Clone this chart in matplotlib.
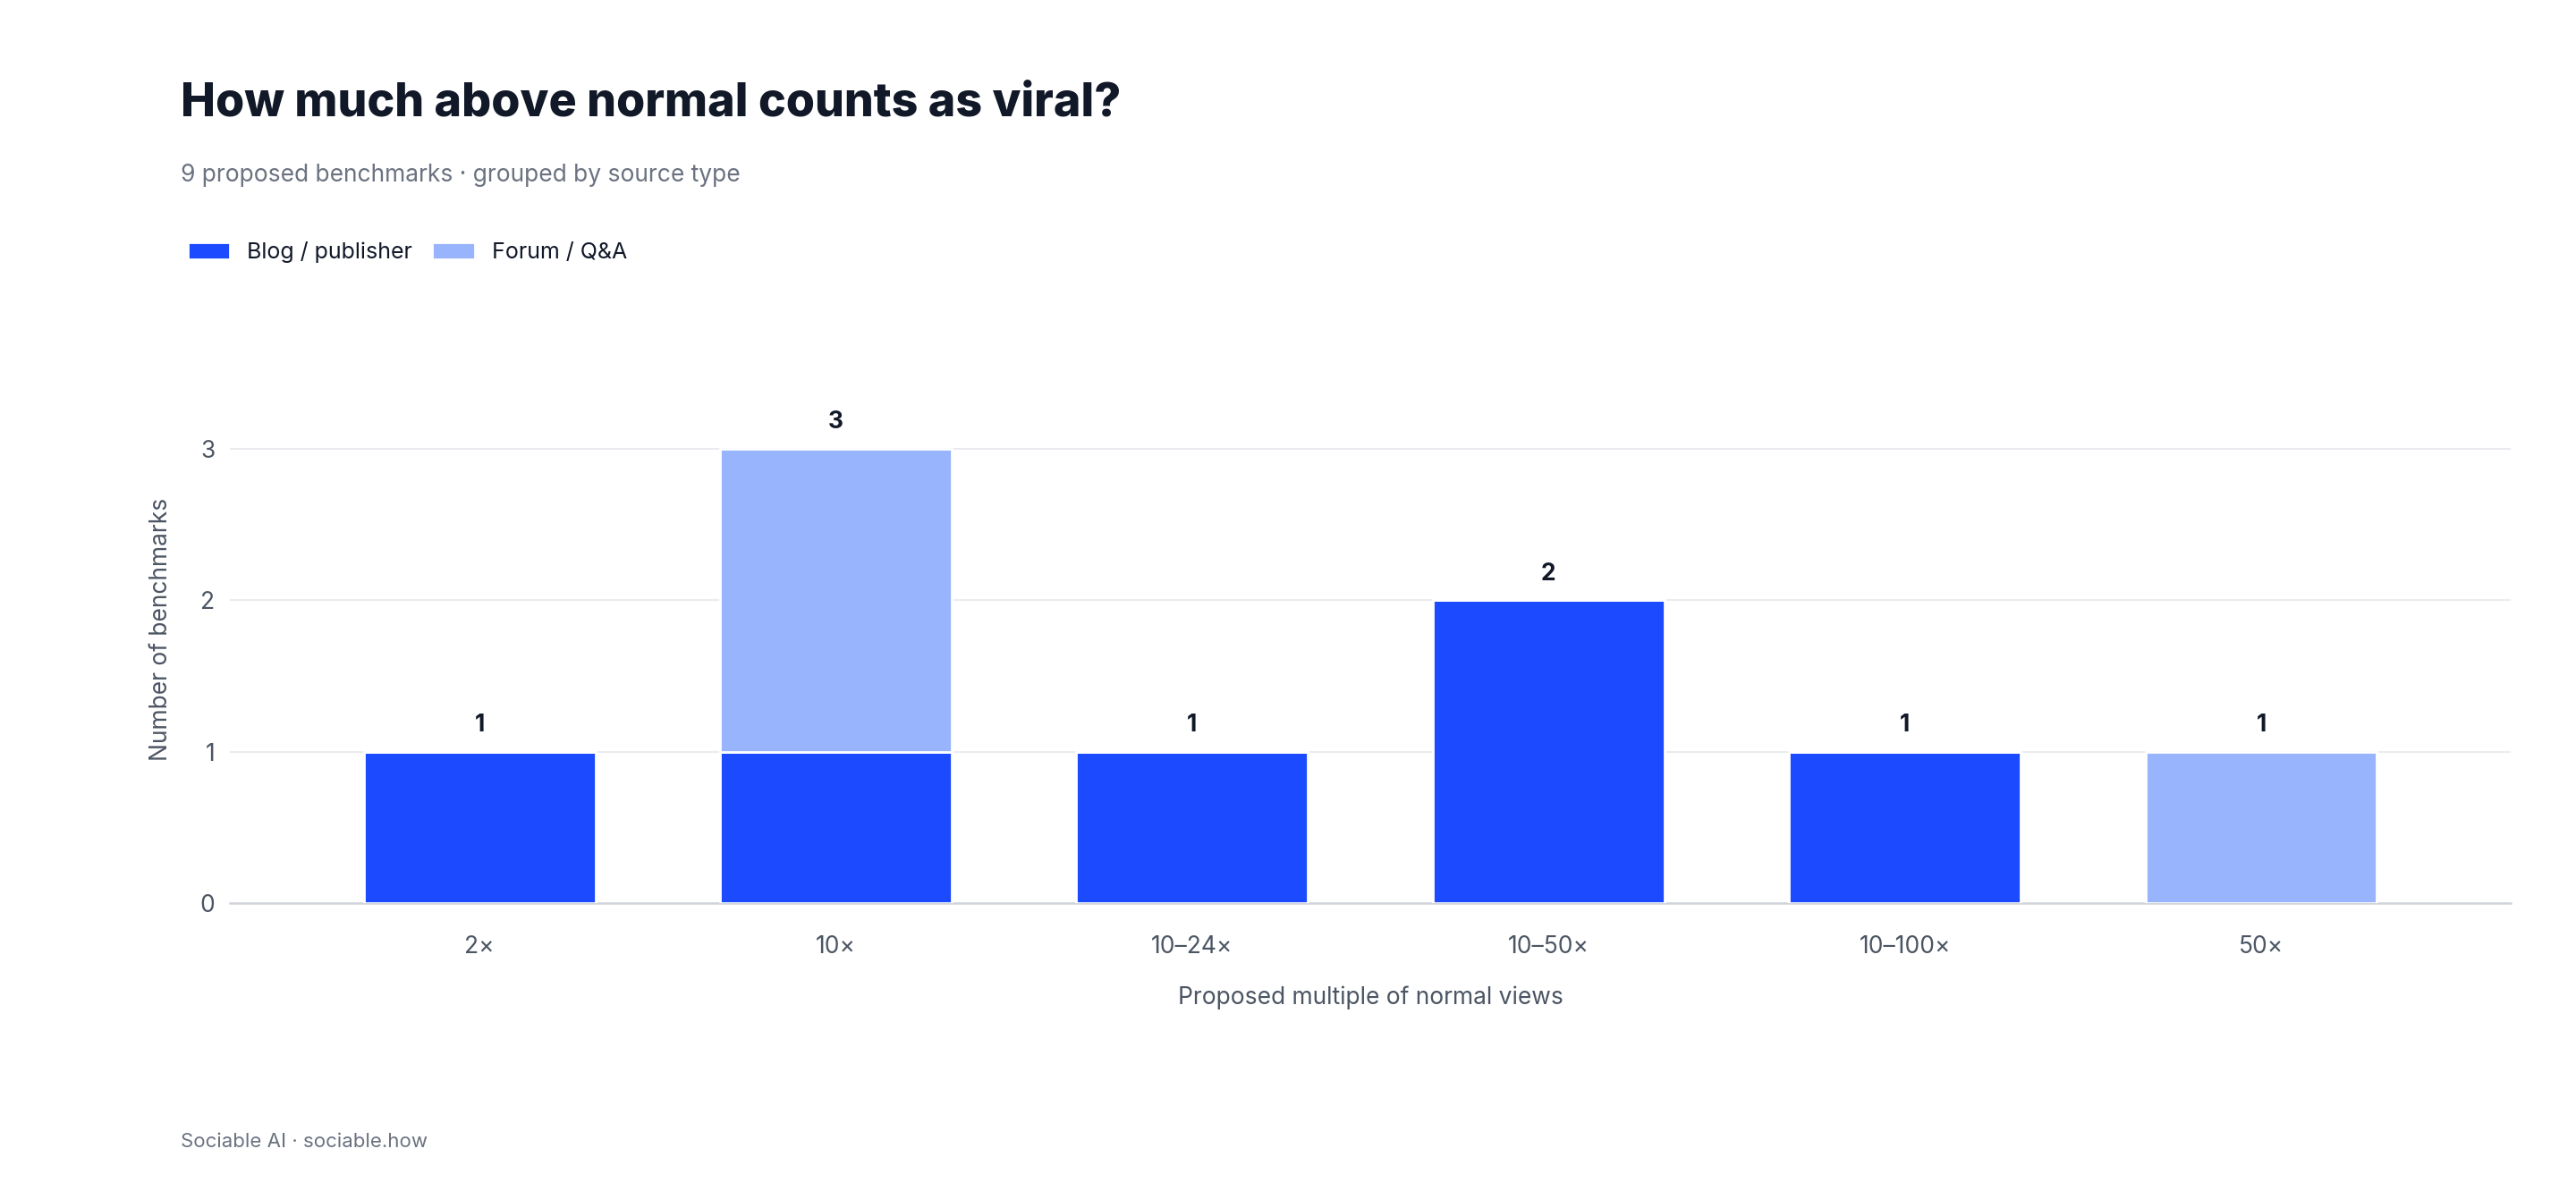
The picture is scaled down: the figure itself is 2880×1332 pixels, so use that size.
import matplotlib
matplotlib.use("Agg")
import matplotlib.pyplot as plt
import numpy as np

# data
categories = ["2×", "10×", "10–24×", "10–50×", "10–100×", "50×"]
blog_counts = [1, 1, 1, 2, 1, 0]
forum_counts = [0, 2, 0, 0, 0, 1]
series_names = ["Blog / publisher", "Forum / Q&A"]

BLUE = "#1b4aff"
LIGHT = "#98b4fd"
INK = "#111827"
GREY = "#4b5563"
MUTED = "#6b7280"

plt.rcParams["font.family"] = ["Inter", "DejaVu Sans"]

fig = plt.figure(figsize=(14.4, 6.66), dpi=200)
ax = fig.add_axes([0.0893, 0.2417, 0.9746 - 0.0893, 0.702 - 0.2417])

x = np.arange(len(categories))
blog = np.array(blog_counts)
forum = np.array(forum_counts)
width = 0.65

b1 = ax.bar(x, blog, width, color=BLUE, edgecolor="white", linewidth=1.0,
            label=series_names[0], zorder=3)
b2 = ax.bar(x, forum, width, bottom=blog, color=LIGHT, edgecolor="white",
            linewidth=1.0, label=series_names[1], zorder=3)

totals = blog + forum
for xi, t in zip(x, totals):
    ax.annotate(str(t), (xi, t), xytext=(0, 6), textcoords="offset points",
                ha="center", va="bottom", fontsize=9.5, fontweight="bold",
                color=INK)

ax.set_xlim(-0.70, len(categories) - 1 + 0.70)
ax.set_ylim(0, 3.62)
ax.set_yticks([0, 1, 2, 3])
ax.set_xticks(x)
ax.set_xticklabels(categories)
ax.yaxis.grid(True, color="#e5e7eb", linewidth=0.6, zorder=0)
ax.set_axisbelow(True)
for s in ["top", "right", "left"]:
    ax.spines[s].set_visible(False)
ax.spines["bottom"].set_color("#d1d5db")
ax.spines["bottom"].set_linewidth(0.9)
ax.tick_params(axis="both", length=0, labelsize=9.5, labelcolor=GREY)
ax.tick_params(axis="x", pad=13)
ax.tick_params(axis="y", pad=6)

ax.set_xlabel("Proposed multiple of normal views", fontsize=9.5, color=GREY,
              labelpad=11)
ax.set_ylabel("Number of benchmarks", fontsize=9.5, color=GREY, labelpad=11)

fig.text(0.0703, 0.913, "How much above normal counts as viral?", fontsize=18.7,
         fontweight="heavy", color=INK, va="center", ha="left")
fig.text(0.0703, 0.853, "9 proposed benchmarks · grouped by source type",
         fontsize=9.5, color=MUTED, va="center", ha="left")
fig.text(0.0703, 0.041, "Sociable AI · sociable.how", fontsize=8,
         color=MUTED, va="center", ha="left")

fig.legend(handles=[b1, b2], labels=series_names, loc="center left",
           bbox_to_anchor=(0.065, 0.788), ncol=2, frameon=False,
           fontsize=9, handlelength=1.9, handleheight=0.8,
           columnspacing=0.9, handletextpad=0.75, labelcolor=INK)

fig.savefig("out.png", dpi=200, facecolor="white")
